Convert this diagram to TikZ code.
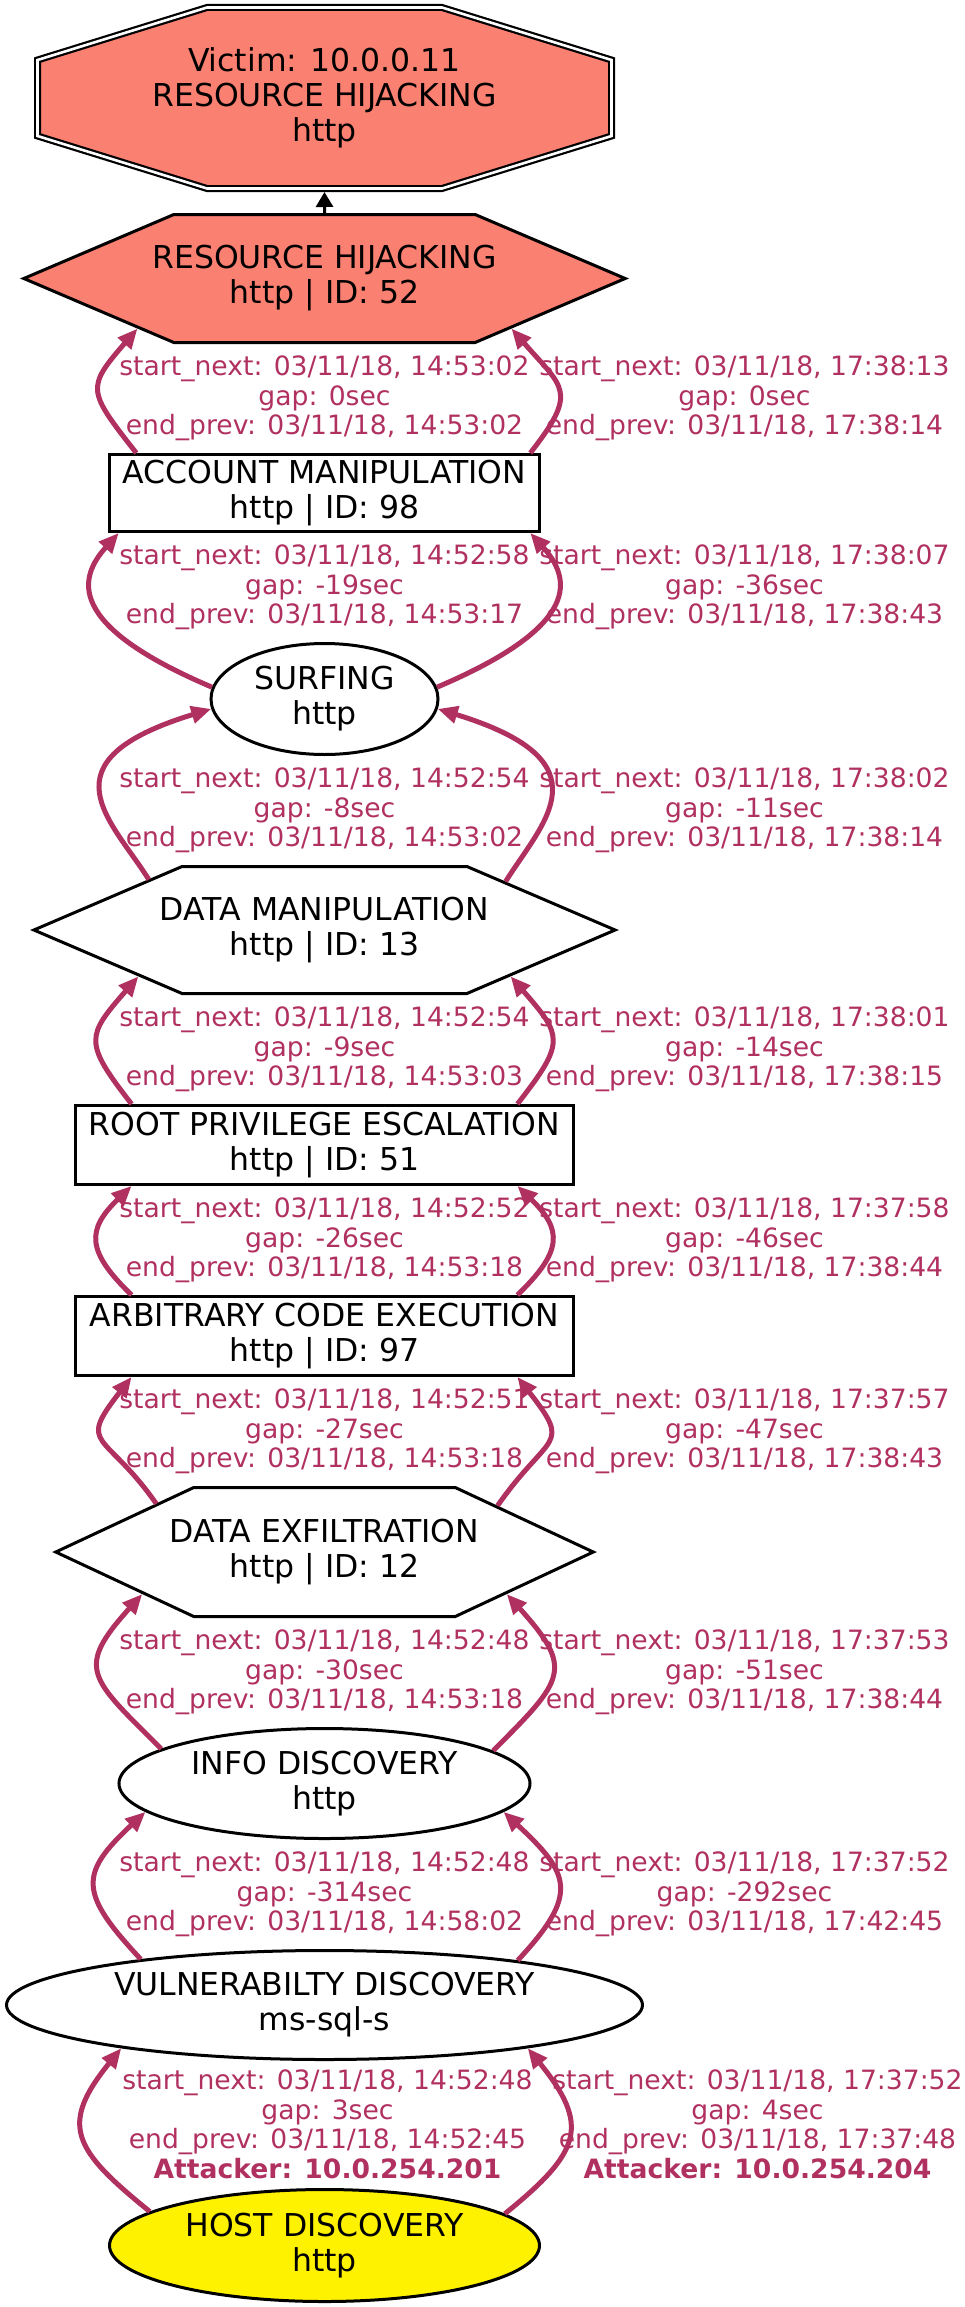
\documentclass[tikz,border=0pt]{standalone}
\usepackage{fontspec}
\setmainfont{DejaVu Sans}
\usepackage{tikz}
\usetikzlibrary{positioning}
\usetikzlibrary{calc}
\usetikzlibrary{arrows.meta}
\usetikzlibrary{backgrounds}
\usetikzlibrary{shapes.geometric}
\usetikzlibrary{shapes.symbols}

\definecolor{salmon}{HTML}{FA8072}
\definecolor{stepred}{HTML}{B03060}

\newcommand{\nodefont}{\fontsize{31.5}{35}\selectfont}
\newcommand{\gapfont}{\fontsize{26.6}{29.5}\selectfont}

\begin{document}
\begin{tikzpicture}
		[x=1pt, y=1pt, node distance=109pt,
		attack/.style={draw=black, line width=3pt, align=center, font=\nodefont, inner sep=0pt},
		rbox/.style={attack, rectangle, minimum height=79pt},
		oval/.style={attack, ellipse},
		hexa/.style={attack, signal, signal to=east and west},
		gaplabel/.style={align=center, font=\gapfont, text=stepred, inner sep=0pt},
		flow/.style={draw=stepred, line width=5pt, -{Triangle[length=20pt, width=17pt]}}]
		\useasboundingbox (0,0) rectangle (964,-2307);

		\node[align=center, font=\nodefont, inner sep=0pt, outer sep=0pt,
			minimum width=574pt, minimum height=181pt] (vic) at (324.5,-98) {Victim: 10.0.0.11\\RESOURCE HIJACKING\\http};
		\node[hexa, fill=salmon, signal pointer angle=46.2, inner xsep=-21.6pt, minimum height=128pt, below=24.5pt of vic] (hij) {RESOURCE HIJACKING\\http | ID: 52};
		\node[rbox, minimum width=430pt, minimum height=77pt, below=of hij] (acc) {ACCOUNT MANIPULATION\\http | ID: 98};
		\node[oval, minimum width=227pt, minimum height=111pt, below=of acc] (surf) {SURFING\\http};
		\node[hexa, signal pointer angle=46.4, inner xsep=-22.1pt, minimum height=127pt, below=of surf] (dm) {DATA MANIPULATION\\http | ID: 13};
		\node[rbox, minimum width=498pt, below=of dm] (root) {ROOT PRIVILEGE ESCALATION\\http | ID: 51};
		\node[rbox, minimum width=498pt, below=of root] (arb) {ARBITRARY CODE EXECUTION\\http | ID: 97};
		\node[hexa, signal pointer angle=50.1, inner xsep=-23.8pt, minimum height=129pt, below=of arb] (ex) {DATA EXFILTRATION\\http | ID: 12};
		\node[oval, minimum width=411pt, minimum height=110pt, below=of ex] (info) {INFO DISCOVERY\\http};
		\node[oval, minimum width=636pt, minimum height=109pt, below=of info] (vuln) {VULNERABILTY DISCOVERY\\ms-sql-s};
		\node[oval, fill=yellow, minimum width=430pt, minimum height=112pt, below=127pt of vuln] (host) {HOST DISCOVERY\\http};

		% victim octagon, double border
		\begin{scope}[on background layer]
			\draw[line width=2.2pt, double, double distance=2.6pt, fill=salmon]
				([xshift=169.5pt]vic.north west) -- ([xshift=-169.5pt]vic.north east)
				-- ([yshift=-52.5pt]vic.north east) -- ([yshift=52.5pt]vic.south east)
				-- ([xshift=-169.5pt]vic.south east) -- ([xshift=169.5pt]vic.south west)
				-- ([yshift=52.5pt]vic.south west) -- ([yshift=-52.5pt]vic.north west) -- cycle;
		\end{scope}

		\draw[line width=3pt, -{Triangle[length=15pt, width=17pt]}] (hij) -- ([yshift=-3.5pt]vic.south);

		% left edges: first attacker
		\draw[flow] (acc.168.4) .. controls +(128:79pt) and +(-131:79pt) .. (hij.195.3);
		\draw[flow] (surf.174) .. controls +(157:160pt) and +(-132:60pt) .. (acc.191.7);
		\draw[flow] (dm.164.4) .. controls +(122:70pt) and +(-163:180pt) .. (surf.185);
		\draw[flow] (root.168) .. controls +(128:79pt) and +(-131:79pt) .. (dm.194.2);
		\draw[flow] (arb.168) .. controls +(136:63pt) and +(-136:63pt) .. (root.192.1);
		\draw[flow] (ex.164.5) .. controls +(125:90pt) and +(-128:90pt) .. (arb.192.1);
		\draw[flow] (info.168.6) .. controls +(135:101pt) and +(-132:101pt) .. (ex.193.4);
		\draw[flow] (vuln.166.3) .. controls +(133:91pt) and +(-137:91pt) .. (info.189.6);
		\draw[flow] (host.169.1) .. controls +(141:99pt) and +(-129:99pt) .. (vuln.192.8);

		% right edges: second attacker
		\draw[flow] (acc.11.6) .. controls +(52:79pt) and +(-49:79pt) .. (hij.-15.3);
		\draw[flow] (surf.6) .. controls +(23:160pt) and +(-48:60pt) .. (acc.-11.7);
		\draw[flow] (dm.15.6) .. controls +(58:70pt) and +(-17:180pt) .. (surf.-5);
		\draw[flow] (root.12) .. controls +(52:79pt) and +(-49:79pt) .. (dm.-14.2);
		\draw[flow] (arb.12) .. controls +(44:63pt) and +(-44:63pt) .. (root.-12.1);
		\draw[flow] (ex.15.5) .. controls +(55:90pt) and +(-52:90pt) .. (arb.-12.1);
		\draw[flow] (info.11.4) .. controls +(45:101pt) and +(-48:101pt) .. (ex.-13.4);
		\draw[flow] (vuln.13.7) .. controls +(47:91pt) and +(-43:91pt) .. (info.-9.6);
		\draw[flow] (host.10.9) .. controls +(39:99pt) and +(-51:99pt) .. (vuln.-12.8);

		% labels
		\node[gaplabel] (g1) at ($(hij.south)!.5!(acc.north)$) {start\_next: 03/11/18, 14:53:02\\gap: 0sec\\end\_prev: 03/11/18, 14:53:02};
		\node[gaplabel, xshift=420pt] (h1) at ($(hij.south)!.5!(acc.north)$) {start\_next: 03/11/18, 17:38:13\\gap: 0sec\\end\_prev: 03/11/18, 17:38:14};
		\node[gaplabel] (g2) at ($(acc.south)!.5!(surf.north)$) {start\_next: 03/11/18, 14:52:58\\gap: -19sec\\end\_prev: 03/11/18, 14:53:17};
		\node[gaplabel, xshift=420pt] (h2) at ($(acc.south)!.5!(surf.north)$) {start\_next: 03/11/18, 17:38:07\\gap: -36sec\\end\_prev: 03/11/18, 17:38:43};
		\node[gaplabel] (g3) at ($(surf.south)!.5!(dm.north)$) {start\_next: 03/11/18, 14:52:54\\gap: -8sec\\end\_prev: 03/11/18, 14:53:02};
		\node[gaplabel, xshift=420pt] (h3) at ($(surf.south)!.5!(dm.north)$) {start\_next: 03/11/18, 17:38:02\\gap: -11sec\\end\_prev: 03/11/18, 17:38:14};
		\node[gaplabel] (g4) at ($(dm.south)!.5!(root.north)$) {start\_next: 03/11/18, 14:52:54\\gap: -9sec\\end\_prev: 03/11/18, 14:53:03};
		\node[gaplabel, xshift=420pt] (h4) at ($(dm.south)!.5!(root.north)$) {start\_next: 03/11/18, 17:38:01\\gap: -14sec\\end\_prev: 03/11/18, 17:38:15};
		\node[gaplabel] (g5) at ($(root.south)!.5!(arb.north)$) {start\_next: 03/11/18, 14:52:52\\gap: -26sec\\end\_prev: 03/11/18, 14:53:18};
		\node[gaplabel, xshift=420pt] (h5) at ($(root.south)!.5!(arb.north)$) {start\_next: 03/11/18, 17:37:58\\gap: -46sec\\end\_prev: 03/11/18, 17:38:44};
		\node[gaplabel] (g6) at ($(arb.south)!.5!(ex.north)$) {start\_next: 03/11/18, 14:52:51\\gap: -27sec\\end\_prev: 03/11/18, 14:53:18};
		\node[gaplabel, xshift=420pt] (h6) at ($(arb.south)!.5!(ex.north)$) {start\_next: 03/11/18, 17:37:57\\gap: -47sec\\end\_prev: 03/11/18, 17:38:43};
		\node[gaplabel] (g7) at ($(ex.south)!.5!(info.north)$) {start\_next: 03/11/18, 14:52:48\\gap: -30sec\\end\_prev: 03/11/18, 14:53:18};
		\node[gaplabel, xshift=420pt] (h7) at ($(ex.south)!.5!(info.north)$) {start\_next: 03/11/18, 17:37:53\\gap: -51sec\\end\_prev: 03/11/18, 17:38:44};
		\node[gaplabel] (g8) at ($(info.south)!.5!(vuln.north)$) {start\_next: 03/11/18, 14:52:48\\gap: -314sec\\end\_prev: 03/11/18, 14:58:02};
		\node[gaplabel, xshift=420pt] (h8) at ($(info.south)!.5!(vuln.north)$) {start\_next: 03/11/18, 17:37:52\\gap: -292sec\\end\_prev: 03/11/18, 17:42:45};
		\node[gaplabel, xshift=3pt] (g9) at ($(vuln.south)!.5!(host.north)$) {start\_next: 03/11/18, 14:52:48\\gap: 3sec\\end\_prev: 03/11/18, 14:52:45\\\textbf{Attacker: 10.0.254.201}};
		\node[gaplabel, xshift=433pt] (h9) at ($(vuln.south)!.5!(host.north)$) {start\_next: 03/11/18, 17:37:52\\gap: 4sec\\end\_prev: 03/11/18, 17:37:48\\\textbf{Attacker: 10.0.254.204}};
	\end{tikzpicture}
\end{document}
